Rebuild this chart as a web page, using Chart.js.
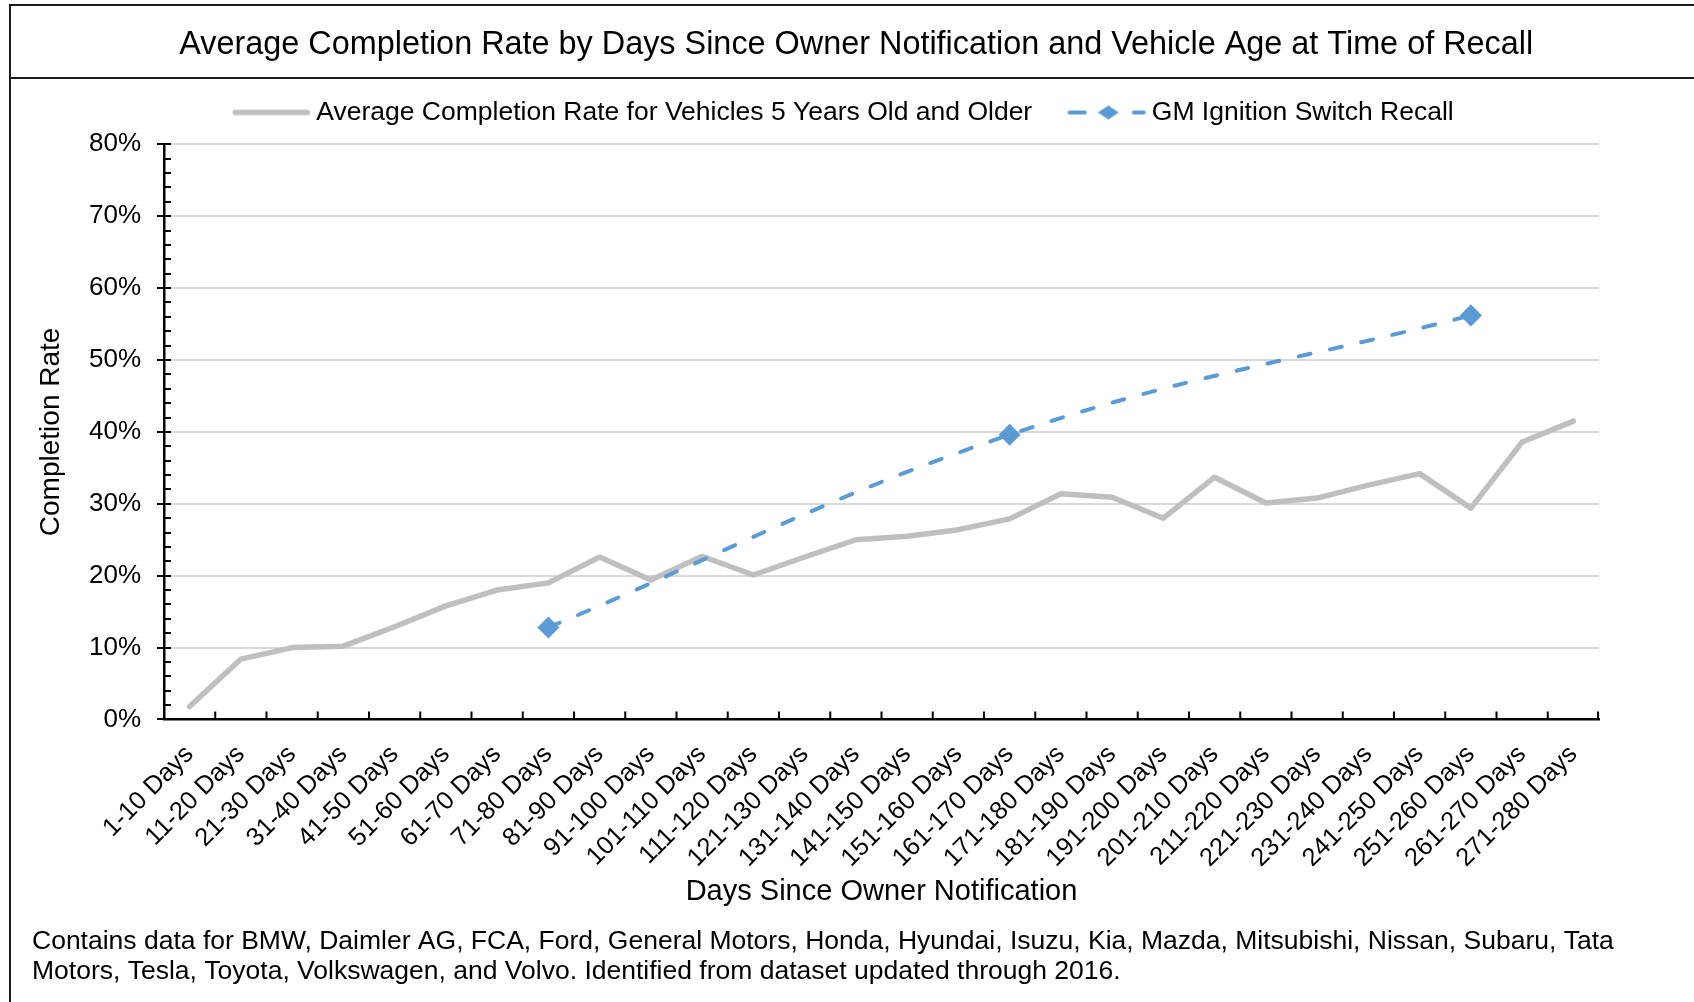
<!DOCTYPE html>
<html>
<head>
<meta charset="utf-8">
<script src="https://cdn.jsdelivr.net/npm/chart.js@4.4.0/dist/chart.umd.min.js"></script>
<style>
  html, body { margin: 0; padding: 0; background: #ffffff; overflow: hidden; }
  #wrap { position: relative; width: 1694px; height: 1002px; }
  .frame { position: absolute; background: #1a1a1a; }
  canvas { position: absolute; left: 0; top: 0; }
</style>
</head>
<body>
<div id="wrap">
  <div class="frame" style="left:9px;top:4px;width:2px;height:998px"></div>
  <div class="frame" style="left:9px;top:4px;width:1685px;height:2px"></div>
  <div class="frame" style="left:9px;top:77px;width:1685px;height:2px"></div>
  <canvas id="chart" width="1694" height="1002"></canvas>
</div>
<script>
// ---------- data ----------
const categories = [
  '1-10 Days', '11-20 Days', '21-30 Days', '31-40 Days', '41-50 Days', '51-60 Days', '61-70 Days',
  '71-80 Days', '81-90 Days', '91-100 Days', '101-110 Days', '111-120 Days', '121-130 Days',
  '131-140 Days', '141-150 Days', '151-160 Days', '161-170 Days', '171-180 Days', '181-190 Days',
  '191-200 Days', '201-210 Days', '211-220 Days', '221-230 Days', '231-240 Days', '241-250 Days',
  '251-260 Days', '261-270 Days', '271-280 Days'
];
const avgCompletion = [
  1.8, 8.4, 10.0, 10.2, 12.9, 15.8, 18.0, 19.0, 22.6, 19.4, 22.7, 20.1, 22.6, 25.0,
  25.5, 26.4, 27.9, 31.4, 30.9, 28.0, 33.7, 30.1, 30.8, 32.6, 34.2, 29.4, 38.6, 41.5
];
const gmRecall = [
  null, null, null, null, null, null, null, 12.8, null, null, null, null, null, null,
  null, null, 39.6, null, null, null, null, null, null, null, null, 56.2, null, null
];
const seriesNames = ['Average Completion Rate for Vehicles 5 Years Old and Older', 'GM Ignition Switch Recall'];
const yMin = 0, yMax = 80, yMajorStep = 10, yMinorStep = 2;
const titleText = 'Average Completion Rate by Days Since Owner Notification and Vehicle Age at Time of Recall';
const xTitleText = 'Days Since Owner Notification';
const yTitleText = 'Completion Rate';
const noteLines = [
  'Contains data for BMW, Daimler AG, FCA, Ford, General Motors, Honda, Hyundai, Isuzu, Kia, Mazda, Mitsubishi, Nissan, Subaru, Tata',
  'Motors, Tesla, Toyota, Volkswagen, and Volvo. Identified from dataset updated through 2016.'
];

// ---------- styles ----------
const FONT = "'Liberation Sans', Arial, Helvetica, sans-serif";
const GRAY = '#BFBFBF';
const BLUE = '#5B9BD5';

// legend geometry
const LEG_FONT = 26.5;      // legend font size
const LEG_BOX = 44.35;      // legend box width (pointStyleWidth)
const LEG_PAD = 62;         // legend item padding
const LEG_SAMPLE = 78;      // visible length of the line sample
const LEG_GAP = 6;          // gap between sample and text
const ICON_W = 98;          // icon canvas width
const ICON_OFF = LEG_BOX / 2 + LEG_FONT / 2 - LEG_GAP - LEG_SAMPLE + ICON_W / 2;

Chart.defaults.font.family = FONT;
Chart.defaults.color = '#000';

function legendLineIcon() {
  const c = document.createElement('canvas');
  c.width = ICON_W; c.height = 12;
  const g = c.getContext('2d');
  g.strokeStyle = GRAY; g.lineWidth = 5.5; g.lineCap = 'round';
  g.beginPath(); g.moveTo(ICON_OFF + 3, 6); g.lineTo(ICON_OFF + LEG_SAMPLE - 3, 6); g.stroke();
  return c;
}
function legendDashIcon() {
  const c = document.createElement('canvas');
  c.width = ICON_W; c.height = 16;
  const g = c.getContext('2d');
  const o = ICON_OFF;
  g.strokeStyle = BLUE; g.fillStyle = BLUE; g.lineWidth = 4; g.lineCap = 'round';
  g.beginPath(); g.moveTo(o + 2, 8); g.lineTo(o + 17, 8); g.moveTo(o + 66, 8); g.lineTo(o + 76, 8); g.stroke();
  g.beginPath(); g.moveTo(o + 30, 8); g.lineTo(o + 40.5, 1); g.lineTo(o + 51, 8); g.lineTo(o + 40.5, 15); g.closePath(); g.fill();
  return c;
}
const legendIcons = [legendLineIcon(), legendDashIcon()];

const axisTicks = {
  id: 'axisTicks',
  afterDraw(chart) {
    const { ctx, chartArea: a, scales: { x, y } } = chart;
    ctx.save();
    ctx.strokeStyle = '#000';
    ctx.lineWidth = 2;
    ctx.beginPath();
    for (let i = 1; i <= categories.length; i++) {
      const px = i < categories.length ? (x.getPixelForValue(i - 1) + x.getPixelForValue(i)) / 2 : a.right - 1;
      ctx.moveTo(px, a.bottom);
      ctx.lineTo(px, a.bottom - 8);
    }
    for (let v = yMin; v <= yMax; v += yMinorStep) {
      const py = Math.round(y.getPixelForValue(v));
      ctx.moveTo(a.left, py);
      ctx.lineTo(a.left + 7, py);
    }
    ctx.stroke();
    ctx.restore();
  }
};

new Chart(document.getElementById('chart'), {
  type: 'line',
  data: {
    labels: categories,
    datasets: [
      {
        label: seriesNames[0],
        data: avgCompletion,
        borderColor: GRAY,
        backgroundColor: GRAY,
        borderWidth: 5.5,
        borderJoinStyle: 'round',
        borderCapStyle: 'round',
        pointRadius: 0,
        tension: 0,
        order: 2
      },
      {
        label: seriesNames[1],
        data: gmRecall,
        borderColor: BLUE,
        backgroundColor: BLUE,
        borderWidth: 4,
        borderDash: [12, 20],
        borderCapStyle: 'round',
        spanGaps: true,
        tension: 0.4,
        pointStyle: 'rectRot',
        pointRadius: 10,
        pointBorderWidth: 1.5,
        pointBackgroundColor: BLUE,
        pointBorderColor: BLUE,
        order: 1
      }
    ]
  },
  options: {
    responsive: false,
    animation: false,
    devicePixelRatio: 1,
    layout: { padding: { left: 32, right: 13.6, top: 0, bottom: 0 } },
    scales: {
      x: {
        type: 'category',
        offset: true,
        ticks: { autoSkip: false, maxRotation: 45, minRotation: 45, font: { size: 25.5 }, color: '#000', padding: 4 },
        grid: { display: true, drawOnChartArea: false, drawTicks: true, tickLength: 16, color: 'rgba(0,0,0,0)', tickColor: 'rgba(0,0,0,0)' },
        border: { display: true, color: '#000', width: 2.5 },
        title: { display: true, text: xTitleText, font: { size: 29 }, color: '#000', padding: { top: 0, bottom: 5 } },
        afterFit(s) { s.height = 195; }
      },
      xTop: {
        type: 'category',
        position: 'top',
        grid: { display: false },
        border: { display: false },
        ticks: { display: false },
        afterFit(s) { s.height = 8.55; }
      },
      y: {
        type: 'linear',
        position: 'left',
        min: yMin,
        max: yMax,
        ticks: { stepSize: yMajorStep, callback: v => v + '%', font: { size: 26 }, color: '#000', padding: 16 },
        grid: { color: '#D9D9D9', lineWidth: 2, drawTicks: true, tickLength: 7, tickColor: '#000', tickWidth: 2 },
        border: { display: true, color: '#000', width: 2.5 },
        title: { display: true, text: yTitleText, font: { size: 28 }, color: '#000', padding: { top: 2, bottom: 0 } },
        afterFit(s) { s.width = 132; }
      },
      yRight: {
        type: 'linear',
        position: 'right',
        grid: { display: false },
        border: { display: false },
        ticks: { display: false },
        afterFit(s) { s.width = 81.4; }
      }
    },
    plugins: {
      title: {
        display: true,
        text: titleText,
        font: { size: 32.4, weight: 'normal', lineHeight: 0.5 },
        color: '#000',
        padding: { top: 36.9, bottom: -15.85 }
      },
      legend: {
        display: true,
        position: 'top',
        labels: {
          usePointStyle: true,
          pointStyleWidth: LEG_BOX,
          padding: LEG_PAD,
          font: { size: LEG_FONT },
          color: '#000',
          generateLabels: (chart) => chart.data.datasets.map((ds, i) => ({
            text: ds.label,
            fillStyle: ds.borderColor,
            strokeStyle: ds.borderColor,
            lineWidth: 0,
            pointStyle: legendIcons[i],
            hidden: false,
            datasetIndex: i,
            fontColor: '#000'
          }))
        }
      },
      subtitle: {
        display: true,
        position: 'bottom',
        align: 'start',
        text: noteLines,
        font: { size: 26.5, lineHeight: 1.102 },
        color: '#000',
        padding: { top: 13, bottom: 16.1 }
      },
      tooltip: { enabled: false }
    }
  },
  plugins: [axisTicks]
});
</script>
</body>
</html>
